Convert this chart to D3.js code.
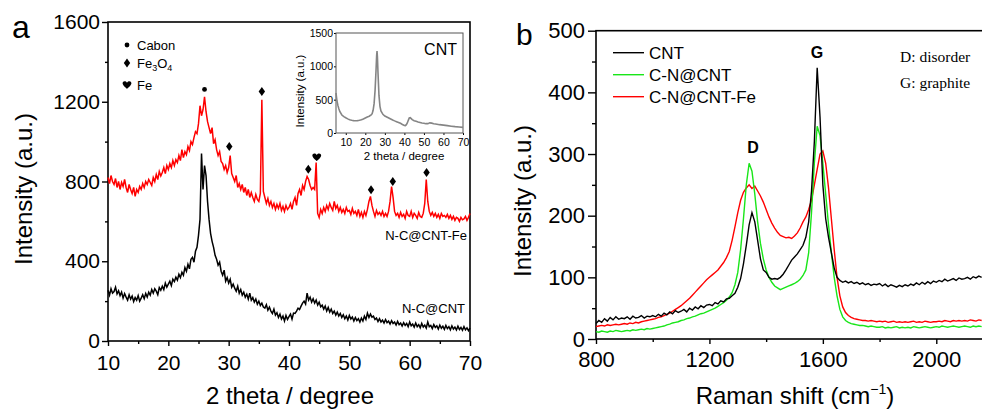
<!DOCTYPE html>
<html>
<head>
<meta charset="utf-8">
<script src="https://cdn.jsdelivr.net/npm/d3@7"></script>
<style>
  body { margin: 0; background: #fff; }
  svg { display: block; font-family: 'Liberation Sans', Arial, sans-serif; }
</style>
</head>
<body>
<div id="chart"></div>
<script>
/* global d3 */

const width = 982,
  height = 412

// ---- panel a : XRD ----
const xrdAngle = [
  10, 10.25, 10.5, 10.75, 11, 11.25, 11.5, 11.75, 12, 12.25, 12.5, 12.75,
  13, 13.25, 13.5, 13.75, 14, 14.25, 14.5, 14.75, 15, 15.25, 15.5, 15.75,
  16, 16.25, 16.5, 16.75, 17, 17.25, 17.5, 17.75, 18, 18.25, 18.5, 18.75,
  19, 19.25, 19.5, 19.75, 20, 20.25, 20.5, 20.75, 21, 21.25, 21.5, 21.75,
  22, 22.25, 22.5, 22.75, 23, 23.25, 23.5, 23.75, 24, 24.25, 24.5, 24.75,
  25, 25.25, 25.5, 25.75, 26, 26.25, 26.5, 26.75, 27, 27.25, 27.5, 27.75,
  28, 28.25, 28.5, 28.75, 29, 29.25, 29.5, 29.75, 30, 30.25, 30.5, 30.75,
  31, 31.25, 31.5, 31.75, 32, 32.25, 32.5, 32.75, 33, 33.25, 33.5, 33.75,
  34, 34.25, 34.5, 34.75, 35, 35.25, 35.5, 35.75, 36, 36.25, 36.5, 36.75,
  37, 37.25, 37.5, 37.75, 38, 38.25, 38.5, 38.75, 39, 39.25, 39.5, 39.75,
  40, 40.25, 40.5, 40.75, 41, 41.25, 41.5, 41.75, 42, 42.25, 42.5, 42.75,
  43, 43.25, 43.5, 43.75, 44, 44.25, 44.5, 44.75, 45, 45.25, 45.5, 45.75,
  46, 46.25, 46.5, 46.75, 47, 47.25, 47.5, 47.75, 48, 48.25, 48.5, 48.75,
  49, 49.25, 49.5, 49.75, 50, 50.25, 50.5, 50.75, 51, 51.25, 51.5, 51.75,
  52, 52.25, 52.5, 52.75, 53, 53.25, 53.5, 53.75, 54, 54.25, 54.5, 54.75,
  55, 55.25, 55.5, 55.75, 56, 56.25, 56.5, 56.75, 57, 57.25, 57.5, 57.75,
  58, 58.25, 58.5, 58.75, 59, 59.25, 59.5, 59.75, 60, 60.25, 60.5, 60.75,
  61, 61.25, 61.5, 61.75, 62, 62.25, 62.5, 62.75, 63, 63.25, 63.5, 63.75,
  64, 64.25, 64.5, 64.75, 65, 65.25, 65.5, 65.75, 66, 66.25, 66.5, 66.75,
  67, 67.25, 67.5, 67.75, 68, 68.25, 68.5, 68.75, 69, 69.25, 69.5, 69.75,
  70
]

const ncCnt = [
  255, 230, 262, 240, 248, 270, 236, 252, 228, 245, 215, 238,
  220, 205, 232, 210, 225, 198, 218, 205, 228, 200, 215, 232,
  212, 238, 220, 245, 230, 258, 240, 262, 250, 232, 268, 255,
  275, 258, 290, 270, 285, 300, 278, 310, 298, 320, 305, 335,
  318, 345, 330, 368, 350, 385, 362, 410, 420, 395, 450, 470,
  530, 610, 940, 760, 880, 830, 700, 610, 540, 500, 470, 430,
  410, 380, 395, 350, 330, 355, 300, 318, 290, 310, 270, 285,
  265, 250, 275, 240, 258, 230, 245, 220, 235, 210, 240, 205,
  218, 195, 210, 185, 200, 178, 190, 170, 165, 182, 155, 170,
  150, 138, 160, 130, 142, 118, 135, 110, 125, 100, 128, 108,
  122, 135, 110, 140, 138, 150, 165, 158, 175, 190, 200, 185,
  240, 205, 220, 195, 212, 190, 205, 180, 195, 172, 180, 160,
  175, 150, 168, 145, 160, 138, 150, 130, 145, 125, 138, 118,
  132, 112, 125, 105, 128, 110, 120, 100, 118, 102, 112, 95,
  115, 100, 125, 108, 140, 118, 135, 120, 125, 108, 115, 98,
  112, 95, 105, 90, 108, 92, 100, 85, 102, 88, 95, 80,
  98, 82, 90, 75, 92, 78, 88, 72, 95, 76, 85, 70,
  90, 72, 82, 66, 88, 70, 80, 65, 95, 72, 78, 62,
  82, 68, 76, 60, 80, 64, 74, 58, 78, 62, 72, 56,
  76, 60, 70, 55, 74, 58, 68, 54, 72, 56, 66, 52,
  65
]

const ncCntFe = [
  820, 790, 830, 800, 785, 815, 770, 800, 760, 795, 775, 810,
  770, 745, 785, 760, 740, 770, 725, 760, 745, 775, 760, 790,
  770, 800, 785, 810, 795, 780, 820, 800, 835, 810, 850, 828,
  845, 870, 840, 880, 860, 890, 870, 905, 880, 910, 895, 930,
  905, 960, 920, 950, 935, 975, 955, 1000, 985, 1020, 1050, 1040,
  1090, 1180, 1130, 1160, 1225, 1150, 1100, 1070, 1040, 1070, 990, 1010,
  960, 930, 950, 900, 890, 860, 880, 845, 870, 930, 840, 820,
  800, 830, 770, 790, 760, 785, 745, 770, 730, 760, 720, 745,
  720, 700, 735, 710, 700, 740, 1210, 750, 720, 690, 715, 680,
  700, 670, 690, 660, 685, 665, 690, 655, 675, 650, 680, 660,
  670, 690, 660, 700, 720, 680, 740, 760, 730, 780, 760, 800,
  825, 810, 780, 760, 770, 760, 895, 640, 620, 660, 640, 670,
  650, 680, 660, 690, 670, 655, 700, 665, 680, 650, 670, 645,
  660, 640, 670, 650, 655, 635, 665, 640, 650, 630, 660, 625,
  645, 620, 650, 630, 660, 700, 725, 680, 650, 625, 655, 635,
  645, 630, 650, 625, 640, 625, 650, 700, 775, 720, 650, 630,
  640, 620, 645, 625, 635, 615, 650, 630, 625, 650, 620, 640,
  630, 615, 645, 625, 620, 640, 690, 810, 700, 650, 630, 645,
  625, 640, 620, 635, 615, 640, 625, 630, 620, 635, 615, 630,
  610, 625, 605, 620, 615, 600, 620, 608, 612, 625, 605, 620,
  640
]

// inset: bare CNT
const cntAngle = [5, 5.5, 6, 6.5, 7, 8, 9, 10, 11, 12, 13, 14, 15, 16, 17, 18, 19, 20,
  21, 22, 22.5, 23, 23.5, 24, 24.5, 25, 25.5, 25.8, 26, 26.2, 26.5, 27, 27.5, 28,
  29, 30, 31, 32, 33, 34, 35, 36, 37, 38, 39, 40, 40.5, 41, 41.5, 42, 42.5, 43,
  43.5, 44, 45, 46, 47, 48, 49, 50, 51, 52, 53, 54, 55, 56, 58, 60, 62, 64, 66, 68, 70]
const cntValue = [600, 480, 410, 360, 320, 270, 245, 228, 212, 200, 192, 186, 184, 186, 190, 198, 210, 225,
  240, 252, 262, 270, 290, 340, 440, 640, 950, 1160, 1230, 1140, 900, 560, 400, 330,
  280, 255, 240, 225, 210, 195, 182, 170, 158, 145, 128, 112, 110, 125, 150, 190, 225, 230,
  215, 200, 185, 175, 165, 158, 150, 145, 140, 140, 152, 148, 140, 135, 125, 118, 110, 102, 95, 90, 85]

// phase markers
const markAngle = [26, 30.1, 35.5, 43.2, 44.6, 53.6, 57.2, 62.8]
const markValue = [1262, 975, 1251, 862, 922, 758, 800, 845]
const markType = ['C', 'Fe3O4', 'Fe3O4', 'Fe3O4', 'Fe', 'Fe3O4', 'Fe3O4', 'Fe3O4']

const xTicksA = [10, 20, 30, 40, 50, 60, 70],
  xMinorA = [15, 25, 35, 45, 55, 65],
  yTicksA = [0, 400, 800, 1200, 1600],
  yMinorA = [200, 600, 1000, 1400]

// ---- panel b : Raman ----
const ramanShift = [
  800, 810, 820, 830, 840, 850, 860, 870, 880, 890,
  900, 910, 920, 930, 940, 950, 960, 970, 980, 990,
  1000, 1010, 1020, 1030, 1040, 1050, 1060, 1070, 1080, 1090,
  1100, 1110, 1120, 1130, 1140, 1150, 1160, 1170, 1180, 1190,
  1200, 1210, 1220, 1230, 1240, 1250, 1260, 1270, 1280, 1290,
  1300, 1310, 1320, 1330, 1340, 1350, 1360, 1370, 1380, 1390,
  1400, 1410, 1420, 1430, 1440, 1450, 1460, 1470, 1480, 1490,
  1500, 1510, 1520, 1530, 1540, 1550, 1560, 1570, 1580, 1590,
  1600, 1610, 1620, 1630, 1640, 1650, 1660, 1670, 1680, 1690,
  1700, 1710, 1720, 1730, 1740, 1750, 1760, 1770, 1780, 1790,
  1800, 1810, 1820, 1830, 1840, 1850, 1860, 1870, 1880, 1890,
  1900, 1910, 1920, 1930, 1940, 1950, 1960, 1970, 1980, 1990,
  2000, 2010, 2020, 2030, 2040, 2050, 2060, 2070, 2080, 2090,
  2100, 2110, 2120, 2130, 2140, 2150, 2160
]

const ramanCnt = [
  25, 30, 27, 33, 29, 35, 31, 36, 32, 34,
  33, 36, 32, 37, 34, 35, 38, 34, 37, 36,
  38, 36, 40, 37, 42, 39, 44, 41, 46, 43,
  45, 48, 44, 50, 47, 52, 49, 54, 51, 55,
  56, 54, 59, 57, 62, 60, 65, 66, 70, 74,
  84, 98, 122, 152, 185, 205, 190, 160, 130, 112,
  108, 100, 97, 98, 97, 100, 105, 112, 120, 128,
  133, 138, 145, 152, 165, 190, 240, 320, 440, 360,
  250, 195, 165, 140, 115, 100, 95, 92, 94, 91,
  93, 90, 92, 89, 91, 88, 90, 87, 89, 88,
  90, 86, 89, 85, 88, 86, 84, 87, 85, 88,
  86, 89, 87, 91, 88, 92, 89, 93, 90, 94,
  92, 95, 93, 97, 94, 96, 98, 95, 99, 97,
  98, 100, 97, 101, 99, 102, 100
]

const ramanCn = [
  12, 11, 13, 12, 11, 13, 12, 14, 13, 12,
  13, 14, 13, 15, 14, 15, 16, 15, 17, 16,
  17, 18, 19, 20, 21, 23, 24, 26, 27, 28,
  30, 31, 33, 34, 36, 37, 39, 41, 42, 44,
  46, 48, 50, 53, 56, 59, 63, 68, 75, 88,
  108, 145, 195, 250, 285, 272, 235, 190, 155, 130,
  112, 100, 92, 86, 83, 80, 82, 84, 86, 88,
  90, 93, 97, 103, 112, 140, 205, 285, 345, 330,
  285, 235, 185, 140, 100, 70, 48, 36, 30, 27,
  25, 24, 23, 22, 22, 21, 20, 21, 20, 19,
  19, 20, 18, 19, 18, 19, 20, 18, 19, 18,
  19, 18, 20, 19, 18, 19, 20, 19, 18, 19,
  20, 19, 21, 20, 19, 20, 21, 20, 19, 20,
  21, 20, 19, 21, 20, 21, 20
]

const ramanCnFe = [
  20, 21, 22, 21, 23, 22, 23, 24, 23, 24,
  25, 24, 26, 25, 27, 26, 28, 29, 30, 31,
  32, 33, 35, 36, 38, 40, 42, 45, 48, 51,
  54, 58, 62, 66, 71, 76, 81, 86, 91, 96,
  100, 104, 108, 112, 118, 124, 132, 142, 160, 182,
  205, 225, 238, 245, 250, 244, 248, 240, 232, 222,
  210, 198, 188, 180, 173, 168, 166, 164, 165, 163,
  167, 172, 180, 190, 198, 210, 225, 250, 275, 300,
  305, 285, 245, 195, 145, 100, 70, 52, 43, 38,
  35, 33, 32, 31, 30, 30, 29, 30, 29, 28,
  29, 28, 29, 27, 28, 29, 27, 28, 27, 28,
  27, 28, 29, 27, 28, 27, 29, 28, 27, 28,
  28, 29, 28, 30, 29, 28, 30, 29, 30, 29,
  30, 29, 31, 30, 29, 31, 30
]

const ramanNames = ['CNT', 'C-N@CNT', 'C-N@CNT-Fe']
const ramanColors = ['#000000', '#19e619', '#ff0000']

const xTicksB = [800, 1200, 1600, 2000],
  xMinorB = [1000, 1400, 1800, 2200],
  yTicksB = [0, 100, 200, 300, 400, 500],
  yMinorB = [50, 150, 250, 350, 450]

// Drawing area
let svg = d3.select('#chart')
  .append('svg')
  .attr('width', width)
  .attr('height', height)

const diamond = 'M0,-4.5L3.2,0L0,4.5L-3.2,0Z'
const heart = 'M0,3.8C-1,2.8 -4.4,0.3 -4.4,-1.8C-4.4,-4 -1.4,-4.6 0,-2.3C1.4,-4.6 4.4,-4 4.4,-1.8C4.4,0.3 1,2.8 0,3.8Z'
const plain = d3.format('d')

let drawSymbol = (g, type, x, y) => {
  if (type === 'C') {
    g.append('circle').attr('cx', x).attr('cy', y).attr('r', 2.4).attr('fill', '#000')
  } else {
    g.append('path')
      .attr('d', type === 'Fe' ? heart : diamond)
      .attr('transform', `translate(${x},${y})`)
      .attr('fill', '#000')
  }
}

let styleAxis = (g, size) => {
  g.select('.domain').remove()
  g.selectAll('line').attr('stroke', '#000').attr('stroke-width', 1.4)
  g.selectAll('text').attr('fill', '#000').style('font-size', size + 'px')
}

// ---- panel a ----
let xA = d3.scaleLinear().domain([10, 70]).range([108, 470])
let yA = d3.scaleLinear().domain([0, 1600]).range([341, 22])

let gA = svg.append('g')

gA.append('g')
  .attr('transform', `translate(0,${yA(0)})`)
  .call(d3.axisBottom(xA).tickValues(xTicksA).tickFormat(plain).tickSize(5).tickPadding(3))
  .call(g => styleAxis(g, 21))
  .call(g => g.selectAll('text').attr('y', 29).attr('dy', null))
gA.append('g')
  .attr('transform', `translate(0,${yA(0)})`)
  .call(d3.axisBottom(xA).tickValues(xMinorA).tickSize(3).tickFormat(''))
  .call(g => styleAxis(g, 21))
gA.append('g')
  .attr('transform', `translate(${xA(10)},0)`)
  .call(d3.axisLeft(yA).tickValues(yTicksA).tickFormat(plain).tickSize(6).tickPadding(2))
  .call(g => styleAxis(g, 21))
gA.append('g')
  .attr('transform', `translate(${xA(10)},0)`)
  .call(d3.axisLeft(yA).tickValues(yMinorA).tickSize(3).tickFormat(''))
  .call(g => styleAxis(g, 21))

gA.append('rect')
  .attr('x', xA(10)).attr('y', yA(1600))
  .attr('width', xA(70) - xA(10)).attr('height', yA(0) - yA(1600))
  .attr('fill', 'none').attr('stroke', '#000').attr('stroke-width', 1.6)

let lineA = d3.line().x(d => xA(d[0])).y(d => yA(d[1]))

gA.append('path')
  .datum(xrdAngle.map((a, i) => [a, ncCnt[i]]))
  .attr('d', lineA)
  .attr('fill', 'none').attr('stroke', '#000').attr('stroke-width', 1.5)
gA.append('path')
  .datum(xrdAngle.map((a, i) => [a, ncCntFe[i]]))
  .attr('d', lineA)
  .attr('fill', 'none').attr('stroke', '#ff0000').attr('stroke-width', 1.5)

markAngle.forEach((a, i) => drawSymbol(gA, markType[i], xA(a), yA(markValue[i])))

gA.append('text').attr('x', 467).attr('y', 240).attr('text-anchor', 'end')
  .style('font-size', '13px').text('N-C@CNT-Fe')
gA.append('text').attr('x', 465).attr('y', 313).attr('text-anchor', 'end')
  .style('font-size', '13px').text('N-C@CNT')

// legend a
drawSymbol(gA, 'C', 127, 45)
drawSymbol(gA, 'Fe3O4', 127, 63)
drawSymbol(gA, 'Fe', 127, 85)
gA.append('text').attr('x', 137).attr('y', 50).style('font-size', '13px').text('Cabon')
let fe3o4 = gA.append('text').attr('x', 137).attr('y', 68).style('font-size', '13px')
fe3o4.append('tspan').text('Fe')
fe3o4.append('tspan').attr('dy', 3).style('font-size', '9px').text('3')
fe3o4.append('tspan').attr('dy', -3).text('O')
fe3o4.append('tspan').attr('dy', 3).style('font-size', '9px').text('4')
gA.append('text').attr('x', 137).attr('y', 90).style('font-size', '13px').text('Fe')

gA.append('text').attr('x', 290).attr('y', 404).attr('text-anchor', 'middle')
  .style('font-size', '24px').text('2 theta / degree')
gA.append('text').attr('transform', 'translate(32,189) rotate(-90)').attr('text-anchor', 'middle')
  .style('font-size', '24px').text('Intensity (a.u.)')
gA.append('text').attr('x', 12).attr('y', 38).style('font-size', '32px').text('a')

// inset
let xI = d3.scaleLinear().domain([5, 70]).range([336, 463])
let yI = d3.scaleLinear().domain([0, 1500]).range([133, 33])

gA.append('g')
  .attr('transform', `translate(0,${yI(0)})`)
  .call(d3.axisBottom(xI).tickValues([10, 20, 30, 40, 50, 60, 70]).tickFormat(plain).tickSize(2).tickPadding(2))
  .call(g => styleAxis(g, 10.5))
  .call(g => g.selectAll('line').attr('stroke-width', 1))
  .call(g => g.selectAll('text').attr('y', 13).attr('dy', null))
gA.append('g')
  .attr('transform', `translate(${xI(5)},0)`)
  .call(d3.axisLeft(yI).tickValues([0, 500, 1000, 1500]).tickFormat(plain).tickSize(2).tickPadding(1))
  .call(g => styleAxis(g, 10.5))
  .call(g => g.selectAll('line').attr('stroke-width', 1))
gA.append('rect')
  .attr('x', xI(5)).attr('y', yI(1500))
  .attr('width', xI(70) - xI(5)).attr('height', yI(0) - yI(1500))
  .attr('fill', 'none').attr('stroke', '#555').attr('stroke-width', 1)
gA.append('path')
  .datum(cntAngle.map((a, i) => [a, cntValue[i]]))
  .attr('d', d3.line().x(d => xI(d[0])).y(d => yI(d[1])))
  .attr('fill', 'none').attr('stroke', '#858585').attr('stroke-width', 1.6)
gA.append('text').attr('x', 457).attr('y', 55).attr('text-anchor', 'end')
  .style('font-size', '16px').text('CNT')
gA.append('text').attr('x', 404).attr('y', 160).attr('text-anchor', 'middle')
  .style('font-size', '11.5px').text('2 theta / degree')
gA.append('text').attr('transform', 'translate(304,91) rotate(-90)').attr('text-anchor', 'middle')
  .style('font-size', '11.5px').text('Intensity (a.u.)')

// ---- panel b ----
let xB = d3.scaleLinear().domain([800, 2200]).range([596, 993])
let yB = d3.scaleLinear().domain([0, 500]).range([339, 30.7])

let gB = svg.append('g')

gB.append('g')
  .attr('transform', `translate(0,${yB(0)})`)
  .call(d3.axisBottom(xB).tickValues(xTicksB).tickFormat(plain).tickSize(5).tickPadding(3))
  .call(g => styleAxis(g, 22))
  .call(g => g.selectAll('text').attr('y', 28).attr('dy', null))
gB.append('g')
  .attr('transform', `translate(0,${yB(0)})`)
  .call(d3.axisBottom(xB).tickValues(xMinorB).tickSize(3).tickFormat(''))
  .call(g => styleAxis(g, 22))
gB.append('g')
  .attr('transform', `translate(${xB(800)},0)`)
  .call(d3.axisLeft(yB).tickValues(yTicksB).tickFormat(plain).tickSize(8).tickPadding(3))
  .call(g => styleAxis(g, 22))
gB.append('g')
  .attr('transform', `translate(${xB(800)},0)`)
  .call(d3.axisLeft(yB).tickValues(yMinorB).tickSize(4).tickFormat(''))
  .call(g => styleAxis(g, 22))

gB.append('rect')
  .attr('x', xB(800)).attr('y', yB(500))
  .attr('width', xB(2200) - xB(800)).attr('height', yB(0) - yB(500))
  .attr('fill', 'none').attr('stroke', '#000').attr('stroke-width', 1.6)

let lineB = d3.line().x(d => xB(d[0])).y(d => yB(d[1]))
let ramanSeries = [ramanCnt, ramanCn, ramanCnFe]

// draw red first, then green, black on top
;[2, 1, 0].forEach(k => {
  gB.append('path')
    .datum(ramanShift.map((s, i) => [s, ramanSeries[k][i]]))
    .attr('d', lineB)
    .attr('fill', 'none').attr('stroke', ramanColors[k]).attr('stroke-width', 1.4)
})

ramanNames.forEach((name, i) => {
  let y = 52.7 + i * 22
  gB.append('line').attr('x1', 613).attr('x2', 644).attr('y1', y).attr('y2', y)
    .attr('stroke', ramanColors[i]).attr('stroke-width', 1.4)
  gB.append('text').attr('x', 649).attr('y', y + 6.5).style('font-size', '17px').text(name)
})

gB.append('text').attr('x', 753).attr('y', 153).attr('text-anchor', 'middle')
  .style('font-size', '16px').style('font-weight', 'bold').text('D')
gB.append('text').attr('x', 817).attr('y', 58).attr('text-anchor', 'middle')
  .style('font-size', '16px').style('font-weight', 'bold').text('G')

gB.append('text').attr('x', 900).attr('y', 62)
  .style('font-family', "'Liberation Serif', 'Times New Roman', serif").style('font-size', '15.5px')
  .text('D: disorder')
gB.append('text').attr('x', 900).attr('y', 88)
  .style('font-family', "'Liberation Serif', 'Times New Roman', serif").style('font-size', '15.5px')
  .text('G: graphite')

let xt = gB.append('text').attr('x', 795).attr('y', 404).attr('text-anchor', 'middle')
  .style('font-size', '24px')
xt.append('tspan').text('Raman shift (cm')
xt.append('tspan').attr('dy', -10).style('font-size', '14px').text('\u22121')
xt.append('tspan').attr('dy', 10).text(')')

gB.append('text').attr('transform', 'translate(531,201) rotate(-90)').attr('text-anchor', 'middle')
  .style('font-size', '24px').text('Intensity (a.u.)')
gB.append('text').attr('x', 516).attr('y', 45).style('font-size', '30px').text('b')
</script>
</body>
</html>
